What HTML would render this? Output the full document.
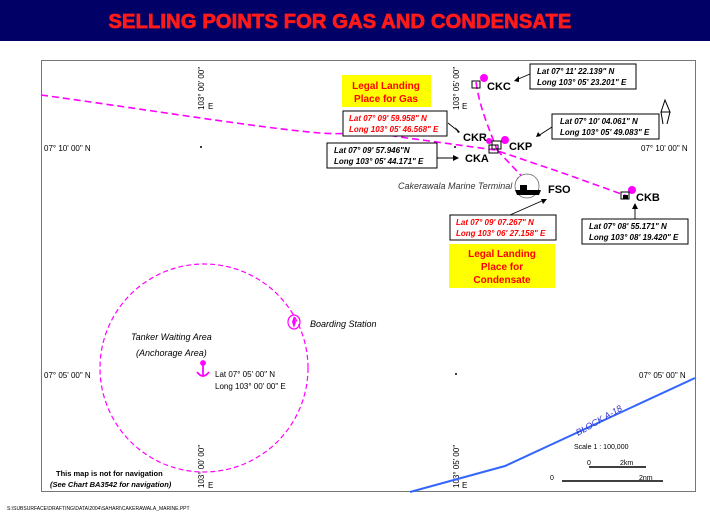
<!DOCTYPE html>
<html><head><meta charset="utf-8"><style>
html,body{margin:0;padding:0;background:#fff;}
svg{display:block;font-family:"Liberation Sans",sans-serif;}
</style></head><body>
<svg width="710" height="529" viewBox="0 0 710 529" xmlns="http://www.w3.org/2000/svg">
<rect x="0" y="0" width="710" height="41" fill="#000066"/>
<text x="340" y="28" text-anchor="middle" font-size="20" font-weight="bold" fill="#ff1a1a" stroke="#ff1a1a" stroke-width="0.8" letter-spacing="0.2">SELLING POINTS FOR GAS AND CONDENSATE</text>
<rect x="41.5" y="60.5" width="654" height="431" fill="none" stroke="#777" stroke-width="1"/>
<g font-size="8" fill="#000">
<text x="44" y="151">07° 10' 00" N</text>
<text x="641" y="151">07° 10' 00" N</text>
<text x="44" y="378">07° 05' 00" N</text>
<text x="639" y="378">07° 05' 00" N</text>
<text transform="translate(204,110) rotate(-90)">103° 00' 00"</text>
<text x="208" y="109">E</text>
<text transform="translate(459,110) rotate(-90)">103° 05' 00"</text>
<text x="462" y="109">E</text>
<text transform="translate(204,488) rotate(-90)">103° 00' 00"</text>
<text x="208" y="488">E</text>
<text transform="translate(459,488) rotate(-90)">103° 05' 00"</text>
<text x="462" y="488">E</text>
</g>
<g fill="#000"><circle cx="201" cy="147" r="1"/><circle cx="456" cy="374" r="1"/><circle cx="455" cy="147" r="1"/></g>
<g fill="none" stroke="#ff00ff" stroke-width="1.6" stroke-dasharray="7,4">
<path d="M41,95 C150,110 260,128 320,133 C345,135 365,131 400,137 L495,150 L560,172 L627,196"/>
<path d="M476,82 C480,110 490,130 497,150"/>
<path d="M497,150 L530,185"/>
</g>
<g fill="#ff00ff">
<circle cx="484" cy="78" r="4"/><circle cx="505" cy="140" r="4"/><circle cx="520" cy="180" r="3.5"/><circle cx="632" cy="190" r="4"/><circle cx="489" cy="141" r="3"/>
</g>
<g fill="none" stroke="#000" stroke-width="1">
<rect x="472" y="81" width="8" height="7"/><rect x="489" y="145" width="9" height="8"/><rect x="492" y="141" width="9" height="8"/><rect x="621" y="192" width="8" height="7"/>
</g>
<rect x="623" y="195" width="5" height="4" fill="#000"/>
<circle cx="527" cy="186" r="12" fill="#fff" stroke="#666" stroke-width="0.8"/>
<path d="M515,190 L541,190 L539,195 L517,195 Z" fill="#000"/><rect x="520" y="185" width="7" height="5" fill="#000"/>
<g font-size="11" font-weight="bold" fill="#000">
<text x="487" y="90">CKC</text><text x="509" y="150">CKP</text><text x="463" y="141">CKR</text><text x="465" y="162">CKA</text><text x="548" y="193">FSO</text><text x="636" y="201">CKB</text>
</g>
<text x="398" y="189" font-size="9" font-style="italic" fill="#333">Cakerawala Marine Terminal</text>
<rect x="342" y="75" width="89" height="32" fill="#ffff00"/>
<text x="386" y="89" text-anchor="middle" font-size="10" font-weight="bold" fill="#ff0000">Legal Landing</text>
<text x="386" y="102" text-anchor="middle" font-size="10" font-weight="bold" fill="#ff0000">Place for Gas</text>
<rect x="449" y="244" width="106" height="44" fill="#ffff00"/>
<text x="502" y="257" text-anchor="middle" font-size="10" font-weight="bold" fill="#ff0000">Legal Landing</text>
<text x="502" y="270" text-anchor="middle" font-size="10" font-weight="bold" fill="#ff0000">Place for</text>
<text x="502" y="283" text-anchor="middle" font-size="10" font-weight="bold" fill="#ff0000">Condensate</text>
<g fill="#fff" stroke="#000" stroke-width="1">
<rect x="530" y="64" width="106" height="25"/>
<rect x="343" y="111" width="104" height="25"/>
<rect x="552" y="114" width="107" height="25"/>
<rect x="327" y="143" width="110" height="25"/>
<rect x="450" y="215" width="106" height="25"/>
<rect x="582" y="219" width="106" height="25"/>
</g>
<g font-size="8" font-style="italic" font-weight="bold" fill="#000">
<text x="537" y="74">Lat 07° 11' 22.139" N</text><text x="537" y="85">Long 103° 05' 23.201" E</text>
<text x="560" y="124">Lat 07° 10' 04.061" N</text><text x="560" y="135">Long 103° 05' 49.083" E</text>
<text x="334" y="153">Lat 07° 09' 57.946"N</text><text x="334" y="164">Long 103° 05' 44.171" E</text>
<text x="589" y="229">Lat 07° 08' 55.171" N</text><text x="589" y="240">Long 103° 08' 19.420" E</text>
</g>
<g font-size="8" font-style="italic" font-weight="bold" fill="#ff0000">
<text x="349" y="121">Lat 07° 09' 59.958" N</text><text x="349" y="132">Long 103° 05' 46.568" E</text>
<text x="456" y="225">Lat 07° 09' 07.267" N</text><text x="456" y="236">Long 103° 06' 27.158" E</text>
</g>
<g stroke="#000" stroke-width="0.9" fill="none">
<line x1="530" y1="74" x2="516" y2="80"/><line x1="448" y1="123" x2="458" y2="131"/><line x1="552" y1="127" x2="538" y2="136"/><line x1="437" y1="158" x2="455" y2="158"/><line x1="510" y1="215" x2="544" y2="200"/><line x1="635" y1="219" x2="635" y2="206"/>
</g>
<g fill="#000">
<path d="M514,81 L519,76 L519,82Z"/><path d="M460,132 L455,127 L458,133Z"/><path d="M536,137 L538,132 L541,136Z"/><path d="M459,158 L453,155 L453,161Z"/><path d="M547,199 L541,199 L543,204Z"/><path d="M635,203 L632,209 L638,209Z"/>
</g>
<g stroke="#000" fill="none" stroke-width="1"><path d="M665,100 L661,112 L670,112 Z"/><path d="M661,112 L663,124 M670,112 L667,124"/></g>
<circle cx="204" cy="368" r="104" fill="none" stroke="#ff00ff" stroke-width="1.2" stroke-dasharray="5,3"/>
<g font-size="9" font-style="italic" fill="#000">
<text x="131" y="340">Tanker Waiting Area</text><text x="136" y="356">(Anchorage Area)</text>
<text x="310" y="327">Boarding Station</text>
</g>
<g font-size="8" fill="#000"><text x="215" y="377">Lat 07° 05' 00" N</text><text x="215" y="389">Long 103° 00' 00" E</text></g>
<g stroke="#ff00ff" stroke-width="1.8" fill="none">
<circle cx="203" cy="363" r="2" fill="#ff00ff"/><line x1="203" y1="365" x2="203" y2="376"/><path d="M197,372 Q203,380 209,372"/>
</g>
<ellipse cx="294" cy="322" rx="6" ry="7" fill="none" stroke="#ff00ff" stroke-width="1.2"/><path d="M294,316 L296,322 L294,328 L292,322Z" fill="#ff00ff"/>
<polyline points="410,492 505,466 695,378" fill="none" stroke="#3366ff" stroke-width="2"/>
<text transform="translate(578,436) rotate(-30)" font-size="9" font-style="italic" fill="#3333cc">BLOCK A-18</text>
<g font-size="7" fill="#000"><text x="574" y="449">Scale 1 : 100,000</text><text x="587" y="465">0</text><text x="620" y="465">2km</text><text x="550" y="480">0</text><text x="639" y="480">2nm</text></g>
<g stroke="#000" stroke-width="1.5"><line x1="589" y1="467" x2="646" y2="467"/><line x1="562" y1="481" x2="663" y2="481"/></g>
<g font-size="7.5" font-weight="bold" fill="#000"><text x="56" y="476">This map is not for navigation</text><text x="50" y="487" font-style="italic">(See Chart BA3542 for navigation)</text></g>
<text x="7" y="510" font-size="5" fill="#000">S:\SUBSURFACE\DRAFTING\DATA\2004\SAHARI\CAKERAWALA_MARINE.PPT</text>
</svg>
</body></html>
